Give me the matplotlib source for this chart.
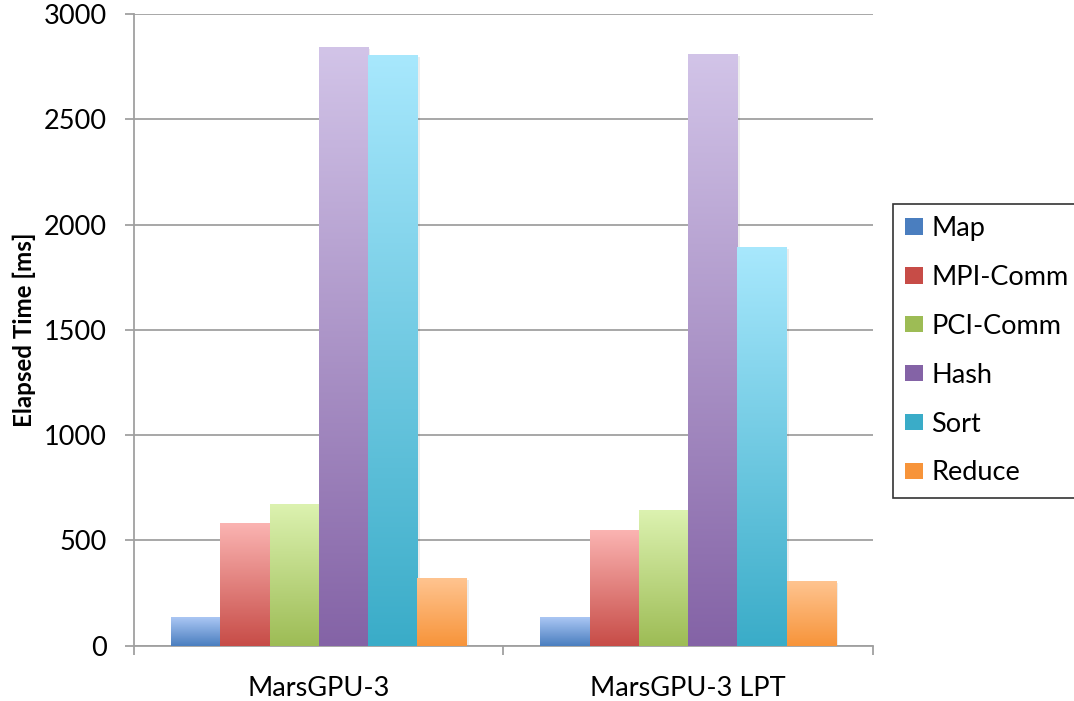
import numpy as np
import matplotlib
matplotlib.use("Agg")
import matplotlib.pyplot as plt
from matplotlib.colors import LinearSegmentedColormap
from matplotlib.patches import Patch

plt.rcParams['font.family'] = ['Lato', 'DejaVu Sans']

groups = ["MarsGPU-3", "MarsGPU-3 LPT"]
phases = ["Map", "MPI-Comm", "PCI-Comm", "Hash", "Sort", "Reduce"]
elapsed_ms = {
    "Map":      [136, 136],
    "MPI-Comm": [583, 549],
    "PCI-Comm": [673, 644],
    "Hash":     [2843, 2810],
    "Sort":     [2805, 1893],
    "Reduce":   [321, 307],
}
yticks = [0, 500, 1000, 1500, 2000, 2500, 3000]

# (top, bottom) colours of each bar gradient
shades = {
    "Map":      ("#abc7f4", "#4a7ebf"),
    "MPI-Comm": ("#fbb4b2", "#c74c47"),
    "PCI-Comm": ("#dcf2b0", "#9dbc55"),
    "Hash":     ("#d2c4e8", "#8463a6"),
    "Sort":     ("#a8e8fd", "#3aacc8"),
    "Reduce":   ("#ffc490", "#f7943a"),
}

FS = 19.5

fig = plt.figure(figsize=(10.74, 7.01), dpi=100)
ax = fig.add_axes([0.1248, 0.0789, 0.688, 0.901])

n = len(phases)
width = 0.8 / n
x = np.arange(len(groups))
grad = np.linspace(1, 0, 256).reshape(-1, 1)

for i, ph in enumerate(phases):
    offs = x - 0.4 + width * (i + 0.5)
    cmap = LinearSegmentedColormap.from_list(ph, [shades[ph][1], shades[ph][0]])
    bars = ax.bar(offs, elapsed_ms[ph], width, color="none", edgecolor="none", zorder=3)
    for b in bars:
        x0, w, h = b.get_x(), b.get_width(), b.get_height()
        # soft shadow on the right side
        ax.add_patch(plt.Rectangle((x0 + 0.006, 0), w, h - 8, color="#000000",
                                   alpha=0.07, lw=0, zorder=2))
        ax.imshow(grad, cmap=cmap, extent=[x0, x0 + w, 0, h], aspect="auto",
                  zorder=3, interpolation="bicubic")

ax.set_xlim(-0.5, 1.5)
ax.set_ylim(0, 3000)
ax.set_yticks(yticks)
ax.set_xticks([-0.5, 0.5, 1.5], minor=False)
ax.set_xticklabels(["", "", ""])
ax.set_xticks(x, minor=True)
ax.set_xticklabels(groups, minor=True, fontsize=FS)
ax.tick_params(axis="x", which="minor", length=0, pad=22)
ax.tick_params(axis="x", which="major", length=6.5, color="#a0a0a0", width=1.3)
ax.tick_params(axis="y", length=6.5, color="#a0a0a0", width=1.3, labelsize=FS, pad=13)

ax.yaxis.grid(True, color="#a0a0a0", lw=1.3, zorder=1)
ax.set_axisbelow(True)
for s in ["top", "right"]:
    ax.spines[s].set_visible(False)
for s in ["left", "bottom"]:
    ax.spines[s].set_color("#a0a0a0")
    ax.spines[s].set_linewidth(1.3)

ax.set_ylabel("Elapsed Time [ms]", fontsize=17.4, fontweight="bold")
ax.yaxis.set_label_coords(-0.133, 0.5)

handles = [Patch(facecolor=shades[ph][1], edgecolor="none") for ph in phases]
leg = fig.legend(handles, phases, loc="upper left",
                 bbox_to_anchor=(893 / 1074, 1 - 204 / 701), borderaxespad=0,
                 fontsize=FS, frameon=True, fancybox=False, edgecolor="black",
                 handlelength=0.67, handleheight=0.55, handletextpad=0.3,
                 labelspacing=0.88, borderpad=0.45)
leg.get_frame().set_linewidth(1.2)

fig.savefig("out.png", dpi=100)
